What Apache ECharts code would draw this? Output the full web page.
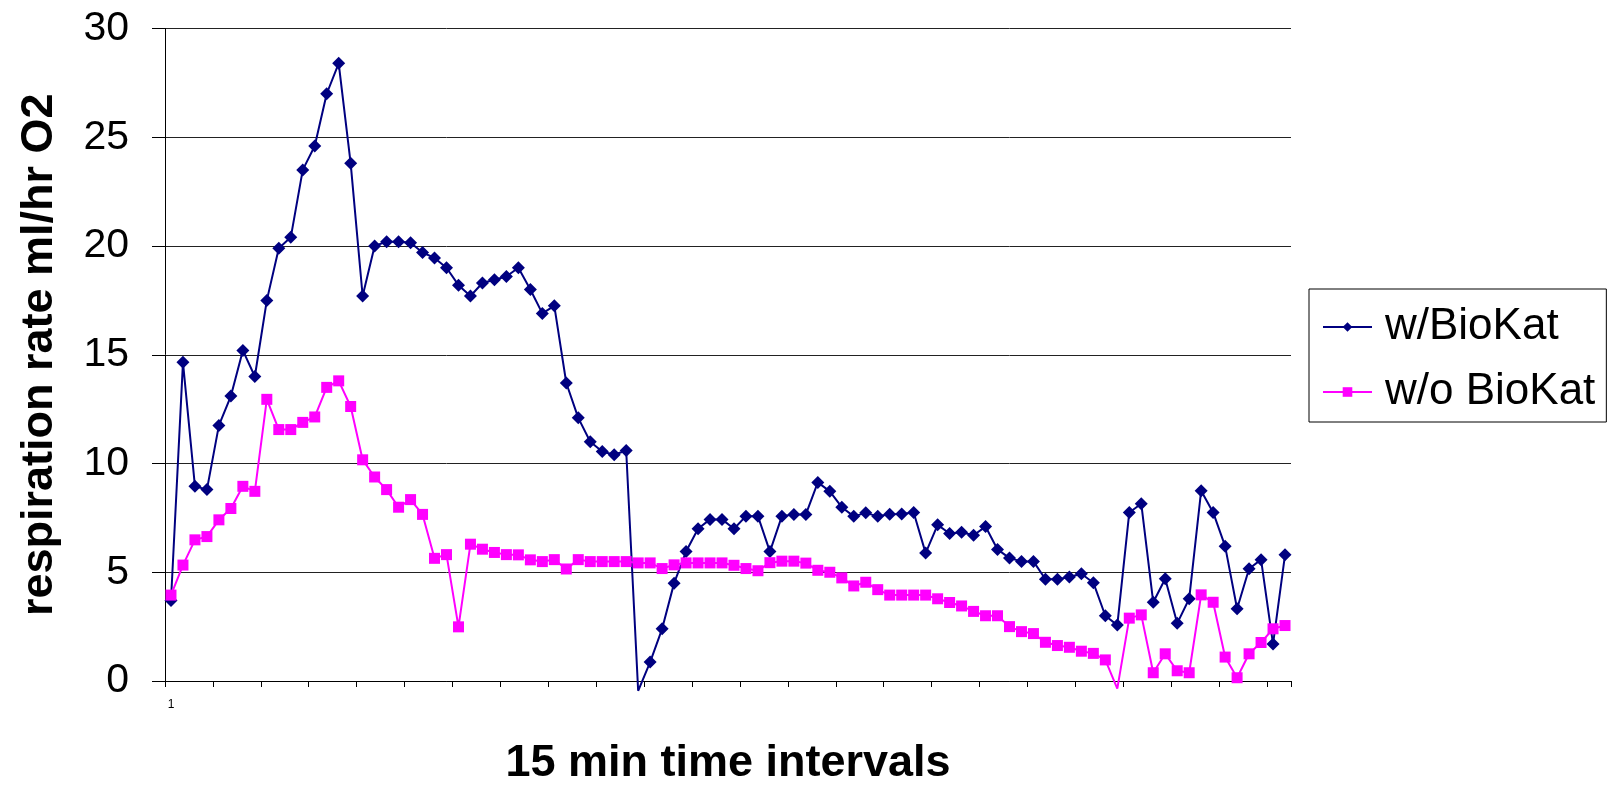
<!DOCTYPE html>
<html>
<head>
<meta charset="utf-8">
<script src="https://cdn.jsdelivr.net/npm/echarts@6/dist/echarts.min.js"></script>
<style>
  html, body { margin: 0; padding: 0; background: #fff; }
  #chart { width: 1609px; height: 791px; }
</style>
</head>
<body>
<div id="chart"></div>
<script>
// 15-min time interval index (1..94)
const categories = Array.from({ length: 94 }, (_, i) => String(i + 1));

const withBioKat = [
  3.7, 14.65, 8.95, 8.8, 11.75, 13.1, 15.2, 14.0, 17.5, 19.9,
  20.4, 23.5, 24.6, 27.0, 28.4, 23.8, 17.7, 20.0, 20.2, 20.2,
  20.15, 19.7, 19.45, 19.0, 18.2, 17.7, 18.3, 18.45, 18.6, 19.0,
  18.0, 16.9, 17.25, 13.7, 12.1, 11.0, 10.55, 10.4, 10.6, -0.45,
  0.87, 2.4, 4.5, 5.95, 7.0, 7.43, 7.43, 7.0, 7.58, 7.58,
  5.95, 7.58, 7.66, 7.66, 9.13, 8.72, 7.99, 7.57, 7.73, 7.57,
  7.67, 7.68, 7.75, 5.88, 7.18, 6.78, 6.84, 6.7, 7.1, 6.05,
  5.65, 5.5, 5.5, 4.68, 4.68, 4.78, 4.93, 4.52, 3.0, 2.57,
  7.75, 8.15, 3.62, 4.7, 2.65, 3.78, 8.75, 7.75, 6.2, 3.32,
  5.16, 5.58, 1.7, 5.8
];

const withoutBioKat = [
  3.95, 5.33, 6.49, 6.64, 7.41, 7.93, 8.95, 8.72, 12.95, 11.56,
  11.56, 11.89, 12.14, 13.5, 13.8, 12.62, 10.17, 9.38, 8.8, 7.99,
  8.34, 7.66, 5.64, 5.81, 2.49, 6.29, 6.06, 5.91, 5.81, 5.8,
  5.57, 5.49, 5.58, 5.15, 5.58, 5.49, 5.49, 5.49, 5.49, 5.43,
  5.43, 5.17, 5.34, 5.43, 5.43, 5.43, 5.43, 5.32, 5.17, 5.07,
  5.44, 5.51, 5.51, 5.42, 5.09, 5.0, 4.74, 4.37, 4.54, 4.2,
  3.95, 3.95, 3.95, 3.95, 3.78, 3.61, 3.45, 3.2, 3.0, 3.0,
  2.5, 2.27, 2.18, 1.78, 1.63, 1.55, 1.37, 1.27, 0.97, -0.35,
  2.89, 3.04, 0.38, 1.25, 0.47, 0.38, 3.96, 3.62, 1.1, 0.15,
  1.25, 1.77, 2.4, 2.55
];

const seriesNames = ['w/BioKat', 'w/o BioKat'];

const FONT = '"Liberation Sans", Arial, sans-serif';

const chart = echarts.init(document.getElementById('chart'), null, { renderer: 'canvas' });

chart.setOption({
  animation: false,
  backgroundColor: '#ffffff',
  textStyle: { fontFamily: FONT },
  grid: { left: 165, right: 318, top: 28.5, bottom: 108, containLabel: false },
  legend: {
    orient: 'vertical',
    left: 1309,
    top: 289,
    data: seriesNames,
    borderColor: '#000',
    borderWidth: 1,
    padding: [13, 11, 5, 13],
    itemGap: 15,
    itemWidth: 49,
    itemHeight: 12,
    textStyle: { fontSize: 44, color: '#000', fontFamily: FONT, lineHeight: 50, padding: [0, 0, 0, 8] }
  },
  xAxis: {
    type: 'category',
    data: categories,
    boundaryGap: true,
    name: '15 min time intervals',
    nameLocation: 'middle',
    nameGap: 60,
    nameTextStyle: { fontSize: 45, fontWeight: 'bold', color: '#000', fontFamily: FONT },
    axisLine: { show: true, lineStyle: { color: '#000', width: 1 } },
    axisTick: { show: true, interval: 3, length: 6, lineStyle: { color: '#000' } },
    axisLabel: {
      interval: (index) => index === 0,
      fontSize: 12,
      color: '#000',
      margin: 18,
      fontFamily: FONT
    },
    splitLine: { show: false }
  },
  yAxis: {
    type: 'value',
    min: 0,
    max: 30,
    interval: 5,
    name: 'respiration rate ml/hr O2',
    nameLocation: 'middle',
    nameGap: 103,
    nameRotate: 90,
    nameTextStyle: { fontSize: 45, fontWeight: 'bold', color: '#000', fontFamily: FONT },
    axisLine: { show: true, lineStyle: { color: '#000', width: 1 } },
    axisTick: { show: true, length: 13, lineStyle: { color: '#000' } },
    axisLabel: { fontSize: 41, color: '#000', margin: 36, fontFamily: FONT },
    splitLine: { show: true, lineStyle: { color: '#222', width: 1 } }
  },
  series: [
    {
      name: seriesNames[0],
      type: 'line',
      data: withBioKat,
      clip: false,
      symbol: 'diamond',
      symbolSize: (v) => (v < 0 ? 0 : 13),
      showAllSymbol: true,
      color: '#000080',
      lineStyle: { color: '#000080', width: 2 },
      itemStyle: { color: '#000080' }
    },
    {
      name: seriesNames[1],
      type: 'line',
      data: withoutBioKat,
      clip: false,
      symbol: 'rect',
      symbolSize: (v) => (v < 0 ? 0 : 11),
      showAllSymbol: true,
      color: '#ff00ff',
      lineStyle: { color: '#ff00ff', width: 2 },
      itemStyle: { color: '#ff00ff' }
    }
  ]
});
</script>
</body>
</html>
